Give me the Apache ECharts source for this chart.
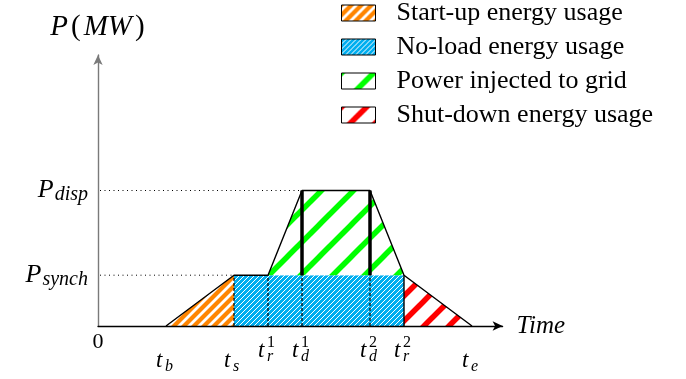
<!DOCTYPE html>
<html><head><meta charset="utf-8">
<script src="https://cdn.jsdelivr.net/npm/echarts@6/dist/echarts.min.js"></script>
<style>html,body{margin:0;padding:0;background:#fff}#c{width:686px;height:379px}</style>
</head><body><div id="c"></div>
<script>
// ---- data ----
const tickTimes = [2, 4, 5, 6, 8, 9, 11];
const tickBase = ['t', 't', 't', 't', 't', 't', 't'];
const tickSub = ['b', 's', 'r', 'd', 'd', 'r', 'e'];
const tickSup = ['', '', '1', '1', '2', '2', ''];
const powerLevels = [1.5, 4];
const powerSub = ['synch', 'disp'];
const profileT = [2, 4, 5, 6, 8, 9, 11];
const profileP = [0, 1.5, 1.5, 4, 4, 1.5, 0];
const startupPoly = [[2, 0], [4, 1.5], [4, 0]];
const noloadPoly = [[4, 0], [4, 1.5], [9, 1.5], [9, 0]];
const injectedPoly = [[5, 1.5], [6, 4], [8, 4], [9, 1.5]];
const shutdownPoly = [[9, 0], [9, 1.5], [11, 0]];
const seriesNames = ['Start-up energy usage', 'No-load energy usage', 'Power injected to grid', 'Shut-down energy usage'];
const dashedVert = [[4, 0, 1.5], [5, 0, 1.5], [6, 0, 1.5], [8, 0, 1.5]];
const thinVert = [[9, 0, 1.5]];
const thickVert = [[6, 1.5, 4], [8, 1.5, 4]];
const dottedLevels = [[1.5, 4], [4, 6]]; // [level, end time]

const SERIF = '"Liberation Serif", "Times New Roman", serif';

function hatch(bg, fg, p, w) {
  const c = document.createElement('canvas');
  c.width = p; c.height = p;
  const g = c.getContext('2d');
  g.fillStyle = bg; g.fillRect(0, 0, p, p);
  g.strokeStyle = fg; g.lineWidth = w;
  for (let k = -1; k <= 1; k++) {
    g.beginPath(); g.moveTo(k * p - p, 2 * p); g.lineTo(k * p + 2 * p, -p); g.stroke();
  }
  return { image: c, repeat: 'repeat' };
}
const patterns = [
  hatch('#ffffff', '#ff8500', 10, 4.2),
  hatch('#00aeef', '#ffffff', 5, 1),
  hatch('#ffffff', '#00ff00', 32, 5.5),
  hatch('#ffffff', '#ff0000', 25, 5.5)
];
const polys = [startupPoly, noloadPoly, injectedPoly, shutdownPoly];

const chart = echarts.init(document.getElementById('c'), null, { renderer: 'canvas' });

function polySeries(i) {
  return {
    type: 'custom', name: seriesNames[i], data: polys[i], encode: { x: 0, y: 1 },
    itemStyle: { color: patterns[i] }, silent: true, z: 2,
    renderItem: function (params, api) {
      if (params.dataIndex !== 0) return;
      const pts = polys[i].map(p => api.coord(p));
      return { type: 'polygon', shape: { points: pts }, style: { fill: patterns[i], stroke: null } };
    }
  };
}
function vertSeries(rows, style, z) {
  return {
    type: 'custom', data: rows, encode: { x: 0, y: [1, 2] }, silent: true, z: z,
    renderItem: function (params, api) {
      const r = rows[params.dataIndex];
      const a = api.coord([r[0], r[1]]), b = api.coord([r[0], r[2]]);
      return { type: 'line', shape: { x1: a[0], y1: a[1], x2: b[0], y2: b[1] }, style: style };
    }
  };
}

const option = {
  animation: false,
  grid: { left: 98, right: 183.4, top: 55, bottom: 53, containLabel: false },
  legend: {
    orient: 'vertical', left: 336, top: -5, itemWidth: 34, itemHeight: 16, itemGap: 8,
    icon: 'rect', selectedMode: false,
    textStyle: { fontFamily: SERIF, fontSize: 26, color: '#000', padding: [0, 0, 0, 16] },
    data: seriesNames.map((n, i) => ({ name: n, itemStyle: { color: patterns[i], borderColor: '#000', borderWidth: 1 } }))
  },
  xAxis: {
    type: 'value', min: 0, max: 11.9, z: 6,
    name: 'Time', nameLocation: 'end', nameGap: 14,
    nameTextStyle: { fontFamily: SERIF, fontStyle: 'italic', fontSize: 25, color: '#000', verticalAlign: 'middle' },
    axisLine: { show: true, onZero: false, symbol: ['none', 'arrow'], symbolSize: [7, 10], lineStyle: { color: '#000', width: 1.3 } },
    axisTick: { show: false }, splitLine: { show: false },
    axisLabel: { show: true, customValues: [0], formatter: () => '0', margin: 5, fontFamily: SERIF, fontSize: 22, color: '#000' }
  },
  yAxis: {
    type: 'value', min: 0, max: 8, z: 6,
    name: '{i|P}{n|(}{i|MW}{n|)}', nameLocation: 'end', nameGap: 13,
    nameTextStyle: {
      rich: {
        i: { fontFamily: SERIF, fontStyle: 'italic', fontSize: 29, color: '#000', padding: [0, 1, 0, 1] },
        n: { fontFamily: SERIF, fontSize: 29, color: '#000', padding: [0, 2, 0, 2] }
      }
    },
    axisLine: { show: true, onZero: false, symbol: ['none', 'arrow'], symbolSize: [7, 10], lineStyle: { color: '#7a7a7a', width: 1.4 } },
    axisTick: { show: false }, splitLine: { show: false },
    axisLabel: {
      show: true, customValues: powerLevels, margin: 10,
      formatter: function (v) { const k = powerLevels.indexOf(v); return '{p|P}{s|' + powerSub[k] + '}'; },
      rich: {
        p: { fontFamily: SERIF, fontStyle: 'italic', fontSize: 26, color: '#000', lineHeight: 29, padding: [0, 1, 0, 0] },
        s: { fontFamily: SERIF, fontStyle: 'italic', fontSize: 20, color: '#000', lineHeight: 20, verticalAlign: 'bottom' }
      }
    }
  },
  series: [
    polySeries(0), polySeries(1), polySeries(2), polySeries(3),
    {
      type: 'custom', data: dottedLevels, encode: { x: 1, y: 0 }, silent: true, z: 3,
      renderItem: function (params, api) {
        const r = dottedLevels[params.dataIndex];
        const a = api.coord([0, r[0]]), b = api.coord([r[1], r[0]]);
        return { type: 'line', shape: { x1: a[0] + 2, y1: a[1], x2: b[0], y2: b[1] }, style: { stroke: '#000', lineWidth: 1, lineDash: [1, 3.5] } };
      }
    },
    {
      type: 'line', data: profileT.map((t, i) => [t, profileP[i]]), symbol: 'none', silent: true, z: 4,
      lineStyle: { color: '#000', width: 1.4 }
    },
    vertSeries(dashedVert, { stroke: '#000', lineWidth: 1.2, lineDash: [3, 2] }, 5),
    vertSeries(thinVert, { stroke: '#000', lineWidth: 1.4 }, 5),
    vertSeries(thickVert, { stroke: '#000', lineWidth: 3.5 }, 5),
    {
      type: 'custom', data: tickTimes.map(t => [t, 0]), encode: { x: 0, y: 1 }, silent: true, z: 6,
      renderItem: function (params, api) {
        const i = params.dataIndex;
        const c = api.coord([tickTimes[i], 0]);
        const px = c[0], py = c[1];
        const sup = tickSup[i] !== '';
        const by = py + (sup ? 25 : 35);
        const ch = [
          { type: 'text', x: px - 10, y: by, style: { text: tickBase[i], font: 'italic 23px ' + SERIF, fill: '#000', align: 'left', verticalAlign: 'middle' } },
          { type: 'text', x: px - 1, y: by + 6, style: { text: tickSub[i], font: 'italic 16px ' + SERIF, fill: '#000', align: 'left', verticalAlign: 'middle' } }
        ];
        if (sup) ch.push({ type: 'text', x: px - 1, y: by - 8, style: { text: tickSup[i], font: '16px ' + SERIF, fill: '#000', align: 'left', verticalAlign: 'middle' } });
        return { type: 'group', children: ch };
      }
    }
  ]
};
chart.setOption(option);
</script>
</body></html>
